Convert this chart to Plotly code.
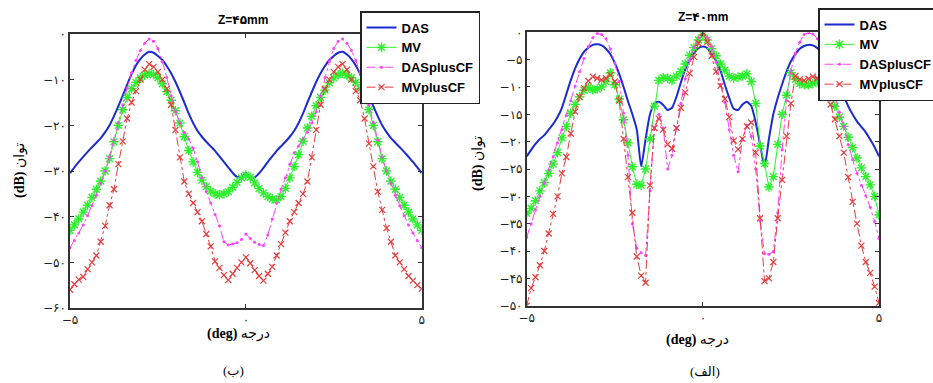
import numpy as np
import plotly.graph_objects as go

# sample angles (deg)
angle = np.linspace(-5, 5, 81)

# ---- Z = 45 mm (left panel) ----
z45_das = [-30.5, -29.2, -28.0, -26.9, -25.8, -24.8, -23.8, -22.8, -21.5, -20.0,
           -18.0, -15.8, -13.5, -11.1, -8.8, -6.9, -5.5, -4.5, -3.9, -4.1,
           -4.8, -5.7, -7.0, -8.6, -10.5, -12.7, -15.0, -17.4, -19.5, -21.2,
           -22.5, -23.6, -24.6, -25.6, -26.8, -28.0, -29.2, -30.4, -31.3, -31.3,
           -30.4,
           -31.3, -31.4, -30.5, -29.3, -28.0, -26.8, -25.6, -24.6, -23.6, -22.5,
           -21.2, -19.5, -17.4, -15.0, -12.7, -10.5, -8.6, -7.0, -5.7, -4.8,
           -4.1, -3.9, -4.5, -5.5, -6.9, -8.8, -11.1, -13.5, -15.8, -18.0,
           -20.0, -21.5, -22.8, -23.8, -24.8, -25.8, -26.9, -28.0, -29.2, -30.5]
z45_mv = [-43.0, -41.8, -40.5, -39.0, -37.5, -35.8, -34.0, -32.2, -30.0, -27.3,
          -23.6, -20.0, -16.6, -13.9, -12.0, -10.6, -9.6, -9.0, -8.6, -8.9,
          -9.6, -10.9, -12.6, -14.5, -16.8, -19.5, -22.5, -25.5, -28.0, -30.3,
          -32.0, -33.4, -34.4, -35.0, -35.2, -35.0, -34.5, -33.6, -32.5, -31.5,
          -30.9,
          -31.4, -32.6, -33.8, -34.8, -35.6, -36.1, -36.3, -35.6, -33.8, -31.5,
          -29.0, -26.4, -23.5, -20.6, -18.0, -15.7, -13.9, -12.3, -10.7, -9.6,
          -8.9, -8.6, -9.0, -9.6, -10.6, -12.0, -13.9, -16.6, -20.0, -23.6,
          -27.3, -30.0, -32.2, -34.0, -35.8, -37.5, -39.0, -40.5, -41.8, -43.0]
z45_dascf = [-46.8, -45.2, -43.6, -41.8, -39.8, -37.6, -35.3, -32.8, -30.0, -26.8,
             -23.2, -19.4, -15.5, -11.8, -8.5, -5.8, -3.6, -2.0, -1.1, -1.6,
             -3.2, -6.0, -9.5, -13.5, -17.0, -19.5, -21.5, -23.0, -25.0, -28.0,
             -31.5, -34.5, -37.0, -39.5, -42.0, -45.5, -46.2, -46.0, -45.7, -45.0,
             -43.8,
             -44.8, -45.6, -46.1, -46.3, -44.0, -40.5, -37.0, -34.0, -31.5, -28.5,
             -26.0, -24.5, -23.0, -21.5, -19.5, -17.0, -13.5, -9.5, -6.0, -3.2,
             -1.6, -1.1, -2.0, -3.6, -5.8, -8.5, -11.8, -15.5, -19.4, -23.2,
             -26.8, -30.0, -32.8, -35.3, -37.6, -39.8, -41.8, -43.6, -45.2, -46.8]
z45_mvcf = [-56.0, -54.8, -53.8, -53.2, -51.5, -50.0, -48.5, -45.5, -42.0, -37.5,
            -34.0, -28.5, -23.5, -18.5, -15.0, -12.5, -10.0, -7.8, -6.6, -7.2,
            -8.3, -10.0, -12.0, -15.5, -21.0, -27.0, -32.3, -35.0, -37.0, -39.0,
            -41.0, -43.8, -46.5, -49.8, -51.2, -52.8, -53.9, -52.5, -51.2, -50.0,
            -48.9,
            -50.2, -51.7, -53.0, -54.0, -52.5, -51.0, -48.5, -46.0, -43.5, -41.0,
            -39.0, -37.0, -35.0, -32.3, -27.0, -21.0, -15.5, -12.0, -10.0, -8.3,
            -7.2, -6.6, -7.8, -10.0, -12.5, -14.5, -18.5, -24.0, -29.0, -34.5,
            -38.5, -42.5, -45.5, -48.5, -50.0, -51.5, -53.0, -54.0, -55.0, -55.8]

# ---- Z = 40 mm (right panel) ----
z40_das = [-22.7, -21.5, -20.4, -19.5, -18.8, -17.8, -16.8, -15.5, -13.8, -11.3,
           -8.8, -6.6, -4.9, -3.6, -2.8, -2.3, -2.2, -2.4, -3.0, -4.0,
           -5.6, -7.6, -10.0, -12.6, -15.0, -17.8, -24.5, -19.5, -15.0, -13.0,
           -12.7, -13.3, -14.2, -13.8, -11.8, -9.2, -6.8, -5.0, -3.8, -2.9,
           -2.6,
           -2.9, -3.9, -5.2, -7.0, -9.6, -12.0, -14.0, -14.2, -13.2, -12.7,
           -13.5, -16.5, -20.5, -24.6, -19.5, -15.0, -12.0, -9.5, -7.2, -5.3,
           -4.0, -3.0, -2.5, -2.3, -2.4, -2.9, -3.7, -4.6, -6.0, -7.8,
           -9.4, -11.6, -13.5, -15.0, -16.3, -17.3, -18.3, -19.6, -21.0, -22.7]
z40_mv = [-33.1, -32.2, -30.8, -29.0, -27.5, -25.8, -24.1, -22.0, -19.3, -17.2,
          -14.8, -13.2, -11.8, -10.6, -10.1, -10.5, -10.4, -10.0, -9.0, -7.4,
          -9.6, -12.2, -16.0, -20.2, -24.6, -27.8, -28.0, -25.0, -19.5, -13.5,
          -8.8, -8.3, -8.4, -8.8, -8.0, -7.2, -5.8, -4.2, -2.8, -1.4,
          -0.5,
          -1.4, -3.0, -4.3, -5.8, -6.9, -8.0, -8.4, -8.2, -8.0, -7.6,
          -9.0, -13.0, -20.8, -24.0, -28.3, -26.4, -20.5, -15.0, -11.5, -7.4,
          -8.6, -9.4, -9.6, -9.6, -9.4, -9.0, -9.7, -10.3, -11.2, -13.5,
          -15.5, -17.2, -19.2, -21.1, -23.0, -24.8, -26.4, -27.9, -30.0, -33.4]
z40_dascf = [-37.5, -35.0, -32.5, -30.0, -27.6, -25.2, -22.8, -20.2, -17.8, -15.2,
             -12.5, -9.8, -7.2, -4.8, -2.6, -1.0, -0.2, -0.4, -1.2, -3.0,
             -5.6, -9.0, -14.8, -22.5, -35.0, -39.5, -40.3, -40.8, -29.0, -17.5,
             -15.0, -17.5, -25.0, -22.5, -17.5, -13.0, -8.5, -5.2, -2.8, -1.0,
             0.0,
             -1.0, -2.6, -5.5, -9.5, -12.8, -17.8, -22.5, -25.5, -19.5, -17.0,
             -19.0, -25.0, -34.5, -40.5, -40.6, -40.1, -33.0, -21.5, -12.5, -7.0,
             -3.8, -1.8, -0.4, -0.1, -0.3, -1.2, -2.8, -5.5, -8.6, -11.8,
             -14.6, -17.2, -20.5, -23.3, -25.8, -28.0, -29.9, -32.0, -34.6, -37.7]
z40_mvcf = [-50.0, -46.8, -44.8, -42.6, -40.0, -36.8, -33.2, -30.0, -25.8, -22.8,
            -18.5, -14.5, -11.8, -10.2, -8.9, -8.1, -8.4, -8.7, -8.4, -7.8,
            -9.0, -12.5, -19.5, -26.5, -33.0, -41.0, -44.5, -45.8, -28.0, -17.5,
            -15.8, -17.8, -20.5, -21.3, -17.5, -13.8, -11.0, -7.5, -4.5, -2.0,
            0.0,
            -1.8, -4.3, -7.2, -9.8, -12.2, -15.5, -19.8, -21.4, -19.5, -17.2,
            -16.5, -22.0, -34.0, -45.5, -45.0, -42.0, -34.0, -27.0, -19.0, -13.0,
            -8.0, -8.6, -8.8, -8.5, -8.1, -8.4, -9.0, -10.2, -13.2, -15.9,
            -19.0, -22.0, -26.5, -31.0, -35.0, -39.0, -42.0, -44.0, -46.5, -49.5]

series_names = ["DAS", "MV", "DASplusCF", "MVplusCF"]

x_tickvals = [-5, 0, 5]
x_ticktext = ["\u2212\u06f5", "\u06f0", "\u06f5"]
y45_tickvals = [0, -10, -20, -30, -40, -50, -60]
y45_ticktext = ["\u06f0", "\u2212\u06f1\u06f0", "\u2212\u06f2\u06f0", "\u2212\u06f3\u06f0",
                "\u2212\u06f4\u06f0", "\u2212\u06f5\u06f0", "\u2212\u06f6\u06f0"]
y40_tickvals = [0, -5, -10, -15, -20, -25, -30, -35, -40, -45, -50]
y40_ticktext = ["\u06f0", "\u2212\u06f5", "\u2212\u06f1\u06f0", "\u2212\u06f1\u06f5",
                "\u2212\u06f2\u06f0", "\u2212\u06f2\u06f5", "\u2212\u06f3\u06f0",
                "\u2212\u06f3\u06f5", "\u2212\u06f4\u06f0", "\u2212\u06f4\u06f5",
                "\u2212\u06f5\u06f0"]

for arr in [z45_das, z45_mv, z45_dascf, z45_mvcf, z40_das, z40_mv, z40_dascf, z40_mvcf]:
    assert len(arr) == len(angle), len(arr)

W, H = 933, 383
BLUE = "#1c2bd0"
GREEN = "#2df02d"
MAGENTA = "#ff40ff"
RED = "#e63c3c"


def add_panel(fig, xa, ya, leg, das, mv, dascf, mvcf):
    fig.add_trace(go.Scatter(x=angle, y=das, name=series_names[0], mode="lines",
                             line=dict(color=BLUE, width=2, shape="spline", smoothing=0.6),
                             xaxis=xa, yaxis=ya, legend=leg))
    fig.add_trace(go.Scatter(x=angle, y=mv, name=series_names[1], mode="lines+markers",
                             line=dict(color=GREEN, width=1),
                             marker=dict(symbol="asterisk-open", size=8, color=GREEN,
                                         line=dict(color=GREEN, width=1.4)),
                             xaxis=xa, yaxis=ya, legend=leg))
    fig.add_trace(go.Scatter(x=angle, y=dascf, name=series_names[2], mode="lines+markers",
                             line=dict(color=MAGENTA, width=1, dash="dashdot"),
                             marker=dict(symbol="circle", size=3, color=MAGENTA),
                             xaxis=xa, yaxis=ya, legend=leg))
    fig.add_trace(go.Scatter(x=angle, y=mvcf, name=series_names[3], mode="lines+markers",
                             line=dict(color=RED, width=1, dash="dashdot"),
                             marker=dict(symbol="x-thin-open", size=6, color=RED,
                                         line=dict(color=RED, width=1.2)),
                             xaxis=xa, yaxis=ya, legend=leg))


fig = go.Figure()
add_panel(fig, "x", "y", "legend", z45_das, z45_mv, z45_dascf, z45_mvcf)
add_panel(fig, "x2", "y2", "legend2", z40_das, z40_mv, z40_dascf, z40_mvcf)

tickfont = dict(family="DejaVu Sans", size=12, color="#222")
axis_common = dict(showline=True, linecolor="#333", linewidth=1.5, mirror="ticks",
                   ticks="inside", ticklen=4, tickcolor="#333", showgrid=False,
                   zeroline=False, tickfont=tickfont)

legend_common = dict(xanchor="left", yanchor="top", bgcolor="white", bordercolor="#222",
                     borderwidth=1.5, tracegroupgap=0, itemwidth=30,
                     font=dict(family="Liberation Sans, Arial", size=13, color="black",
                               weight="bold"))

fig.update_layout(
    width=W, height=H,
    margin=dict(l=0, r=0, t=0, b=0, autoexpand=False),
    paper_bgcolor="white", plot_bgcolor="white",
    showlegend=True,
    hovermode=False,
    xaxis=dict(domain=[70 / W, 421.7 / W], range=[-5, 5], tickvals=x_tickvals,
               ticktext=x_ticktext, anchor="y", **axis_common),
    yaxis=dict(domain=[1 - 308 / H, 1 - 34 / H], range=[-60, 0], tickvals=y45_tickvals,
               ticktext=y45_ticktext, anchor="x", **axis_common),
    xaxis2=dict(domain=[526.7 / W, 879 / W], range=[-5, 5], tickvals=x_tickvals,
                ticktext=x_ticktext, anchor="y2", **axis_common),
    yaxis2=dict(domain=[1 - 305.7 / H, 1 - 32.3 / H], range=[-50, 0], tickvals=y40_tickvals,
                ticktext=y40_ticktext, anchor="x2", **axis_common),
    legend=dict(x=360 / W, y=1 - 11 / H, **legend_common),
    legend2=dict(x=818 / W, y=1 - 8 / H, **legend_common),
)


def ann(text, px, py, size=13, family="Liberation Sans, DejaVu Sans", angle=0):
    fig.add_annotation(text=text, x=px / W, y=1 - py / H, xref="paper", yref="paper",
                       showarrow=False, xanchor="center", yanchor="middle", textangle=angle,
                       font=dict(family=family, size=size, color="black"))


serif = "Liberation Serif, DejaVu Sans"
ann("<b>Z=\u06f4\u06f5mm</b>", 243, 20, size=12)
ann("<b>Z=\u06f4\u06f0mm</b>", 703, 17, size=12)
ann("<b>(deg)</b> درجه", 238, 334, size=14, family=serif)
ann("<b>(deg)</b> درجه", 697, 340, size=14, family=serif)
ann("<b>(dB)</b> توان", 20, 171, size=14, family=serif, angle=-90)
ann("<b>(dB)</b> توان", 478, 163, size=14, family=serif, angle=-90)
ann("(ب)", 233, 370, size=13, family=serif)
ann("(الف)", 705, 371, size=13, family=serif)

fig.write_html("out.html", config={"displayModeBar": False, "staticPlot": False},
               post_script="document.body.style.margin='0';document.body.style.padding='0';")
